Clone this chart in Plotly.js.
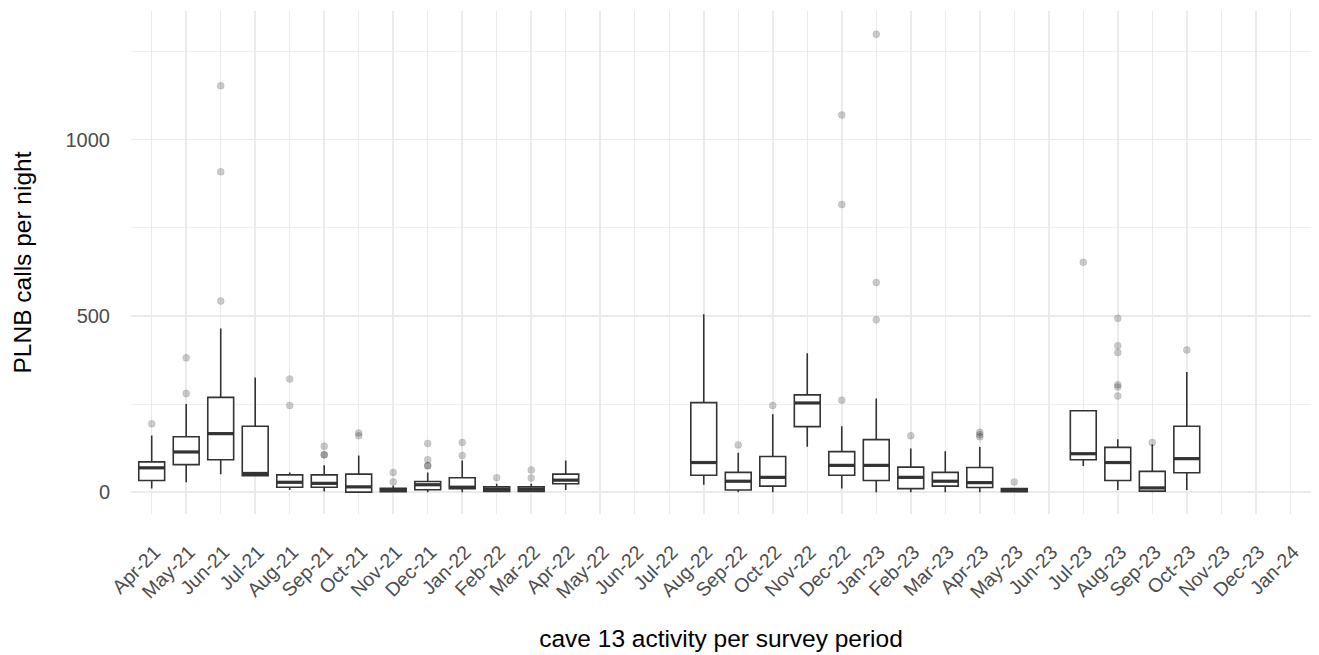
<!DOCTYPE html>
<html>
<head>
<meta charset="utf-8">
<script src="https://cdn.plot.ly/plotly-3.0.1.min.js"></script>
<style>html,body{margin:0;padding:0;background:#fff;}#chart{width:1319px;height:655px;}</style>
</head>
<body>
<div id="chart"></div>
<script>
// All survey periods shown on the x axis
const categories = ["Apr-21","May-21","Jun-21","Jul-21","Aug-21","Sep-21","Oct-21","Nov-21","Dec-21",
  "Jan-22","Feb-22","Mar-22","Apr-22","May-22","Jun-22","Jul-22","Aug-22","Sep-22","Oct-22","Nov-22","Dec-22",
  "Jan-23","Feb-23","Mar-23","Apr-23","May-23","Jun-23","Jul-23","Aug-23","Sep-23","Oct-23","Nov-23","Dec-23","Jan-24"];

// Periods with data and their box statistics (calls per night)
const boxPeriods = ["Apr-21","May-21","Jun-21","Jul-21","Aug-21","Sep-21","Oct-21","Nov-21","Dec-21",
  "Jan-22","Feb-22","Mar-22","Apr-22","Aug-22","Sep-22","Oct-22","Nov-22","Dec-22",
  "Jan-23","Feb-23","Mar-23","Apr-23","May-23","Jul-23","Aug-23","Sep-23","Oct-23"];
const lowerFence = [10, 28, 51, 47, 6, 2, 0, 0, 0, 0, 0, 0, 6, 21, 0, 0, 129, 10, 0, 0, 0, 0, 0, 74, 6, 0, 6];
const q1         = [33, 78, 92, 47, 14, 14, 0, 1, 7, 10, 2, 2, 24, 48, 6, 17, 186, 48, 33, 10, 17, 13, 1, 92, 33, 3, 55];
const medians    = [69, 114, 166, 53, 28, 25, 15, 5, 21, 14, 8, 8, 34, 84, 31, 42, 253, 76, 76, 42, 31, 27, 5, 109, 84, 12, 95];
const q3         = [86, 157, 269, 187, 49, 49, 51, 11, 30, 41, 15, 15, 51, 254, 56, 101, 276, 115, 149, 71, 56, 70, 10, 231, 127, 59, 187];
const upperFence = [161, 250, 464, 325, 56, 76, 104, 18, 56, 90, 24, 24, 90, 505, 112, 221, 394, 187, 266, 124, 116, 128, 12, 231, 150, 135, 341];

// Outlying nights
const outlierPeriods = ["Apr-21","May-21","May-21","Jun-21","Jun-21","Jun-21","Aug-21","Aug-21",
  "Sep-21","Sep-21","Sep-21","Oct-21","Oct-21","Nov-21","Nov-21","Dec-21","Dec-21","Dec-21","Dec-21",
  "Jan-22","Jan-22","Feb-22","Mar-22","Mar-22","Sep-22","Oct-22","Dec-22","Dec-22","Dec-22",
  "Jan-23","Jan-23","Jan-23","Feb-23","Apr-23","Apr-23","Apr-23","May-23","Jul-23",
  "Aug-23","Aug-23","Aug-23","Aug-23","Aug-23","Aug-23","Sep-23","Oct-23"];
const outlierValues = [194, 381, 280, 542, 909, 1153, 321, 246,
  130, 106, 106, 168, 160, 56, 29, 138, 92, 75, 75,
  141, 104, 41, 63, 40, 134, 246, 261, 816, 1070,
  489, 595, 1299, 160, 170, 163, 157, 29, 652,
  493, 415, 396, 305, 298, 273, 141, 403];

const yTickVals = [0, 500, 1000];
const yTickText = ["0", "500", "1000"];

const lineCol = "#333333";
const traces = [
  {
    type: "box",
    x: boxPeriods,
    q1: q1, median: medians, q3: q3,
    lowerfence: lowerFence, upperfence: upperFence,
    boxpoints: false,
    width: 0.75,
    whiskerwidth: 0,
    fillcolor: "#ffffff",
    line: {color: lineCol, width: 1.6},
    showlegend: false,
    hoverinfo: "skip"
  },
  {
    type: "scatter",
    mode: "markers",
    x: boxPeriods,
    y: medians,
    marker: {symbol: "line-ew", size: 18.2, color: lineCol, line: {color: lineCol, width: 3.2}},
    showlegend: false,
    hoverinfo: "skip"
  },
  {
    type: "scatter",
    mode: "markers",
    x: outlierPeriods,
    y: outlierValues,
    marker: {symbol: "circle", size: 7, color: "rgba(0,0,0,0.2)", line: {width: 0.8, color: "rgba(0,0,0,0.12)"}},
    showlegend: false,
    hoverinfo: "skip"
  }
];

const layout = {
  width: 1319, height: 655,
  margin: {l: 131, r: 8, t: 11, b: 141},
  paper_bgcolor: "#ffffff",
  plot_bgcolor: "#ffffff",
  font: {family: "Liberation Sans, Arial, sans-serif", color: "#4D4D4D"},
  xaxis: {
    type: "category",
    categoryorder: "array",
    categoryarray: categories,
    tickvals: categories,
    range: [-0.6, categories.length - 0.4],
    tickangle: -45,
    tickfont: {size: 19.5, color: "#4D4D4D"},
    showgrid: true, gridcolor: "#EBEBEB", gridwidth: 1.5,
    zeroline: false, showline: false, ticks: "",
    ticklabelstandoff: 22,
    ticklabelshift: 3,
    title: {text: "cave 13 activity per survey period", font: {size: 24.5, color: "#000000"}, standoff: 28},
    automargin: false
  },
  yaxis: {
    range: [-62, 1365],
    tickvals: yTickVals,
    ticktext: yTickText,
    tickfont: {size: 20, color: "#4D4D4D"},
    showgrid: true, gridcolor: "#EBEBEB", gridwidth: 1.5,
    minor: {dtick: 250, tick0: 0, showgrid: true, gridcolor: "#EFEFEF", gridwidth: 1, ticks: ""},
    zeroline: false, showline: false, ticks: "",
    ticklabelstandoff: 20,
    title: {text: "PLNB calls per night", font: {size: 24.5, color: "#000000"}, standoff: 26},
    automargin: false
  }
};

Plotly.newPlot("chart", traces, layout, {staticPlot: true, displayModeBar: false});
</script>
</body>
</html>
